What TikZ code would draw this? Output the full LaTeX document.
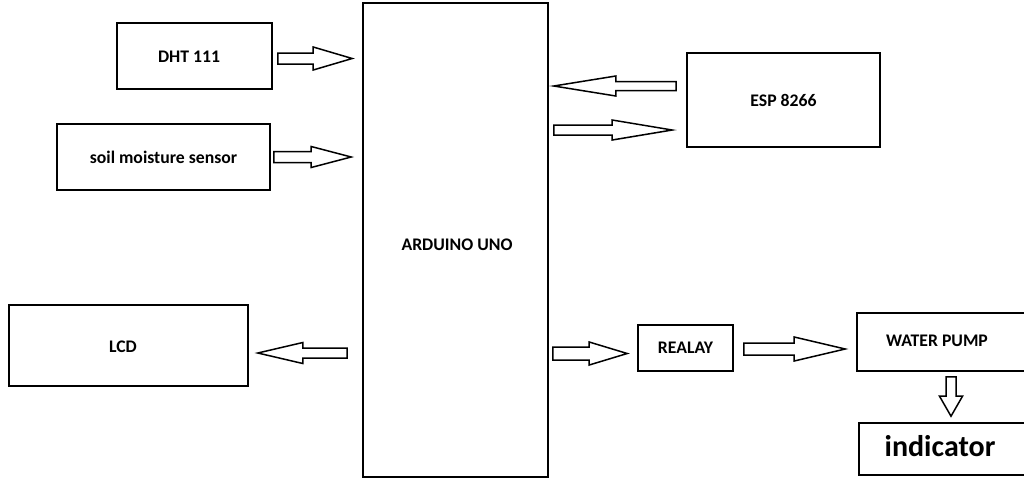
\documentclass[tikz,border=0pt]{standalone}
\usepackage{fontspec}
\setmainfont{Carlito}
\usetikzlibrary{calc}
\begin{document}
\begin{tikzpicture}[x=1pt,y=-1pt,
  box/.style 2 args={draw, line width=1.6pt, inner sep=0pt, minimum width=#1, minimum height=#2,
    font=\fontsize{17.7}{20}\selectfont\bfseries},
  lbl/.style={inner sep=0pt, font=\fontsize{17.7}{20}\selectfont\bfseries},
  biglbl/.style={inner sep=0pt, font=\fontsize{30}{34}\selectfont\bfseries},
  barrow/.style n args={3}{draw, line width=1.5pt, line join=miter, to path={
    ($(\tikztostart)!#1!90:(\tikztotarget)$) --
    ($(\tikztotarget)!#3!(\tikztostart)!#1!90:(\tikztotarget)$) --
    ($(\tikztotarget)!#3!(\tikztostart)!#2!90:(\tikztotarget)$) --
    (\tikztotarget) --
    ($(\tikztotarget)!#3!(\tikztostart)!#2!-90:(\tikztotarget)$) --
    ($(\tikztotarget)!#3!(\tikztostart)!#1!-90:(\tikztotarget)$) --
    ($(\tikztostart)!#1!-90:(\tikztotarget)$) -- cycle}}
]
\useasboundingbox (0,0) rectangle (1024,483);
\clip (0,0) rectangle (1024,483);

% boxes
\node[box={155pt}{66pt}] (dht) at (194.5,56) {};
\node[lbl] (dhtt) at (189,57) {DHT 111};
\node[box={213pt}{66pt}] (soil) at (163.5,157) {soil moisture sensor};
\node[box={239pt}{81pt}] (lcd) at (128.5,345.5) {};
\node[lbl] (lcdt) at (123,347) {LCD};
\node[box={185pt}{474pt}] (ard) at (455.5,240) {};
\node[lbl] (ardt) at (457,245) {ARDUINO UNO};
\node[box={193pt}{94pt}] (esp) at (783.5,100) {ESP 8266};
\node[box={95pt}{46pt}] (relay) at (685.5,348) {REALAY};
\node[box={173pt}{58pt}] (pump) at (943.5,342) {};
\node[lbl] (pumpt) at (937,341) {WATER PUMP};
\node[box={171pt}{52pt}] (ind) at (944.5,449) {};
\node[biglbl] (indt) at (940,446) {indicator};

% arrow end points
\coordinate (a1s) at ($(dht.east)+(5,2.5)$);
\coordinate (a1e) at ($(ard.west |- a1s)+(-10,0)$);
\coordinate (a2s) at ($(soil.east)+(3,0)$);
\coordinate (a2e) at ($(ard.west |- a2s)+(-11,0)$);
\coordinate (a3s) at ($(esp.west |- 0,86)+(-10,0)$);
\coordinate (a3e) at ($(ard.east |- a3s)+(5,0)$);
\coordinate (a4s) at ($(ard.east |- 0,130)+(5,0)$);
\coordinate (a4e) at ($(esp.west |- a4s)+(-14,0)$);
\coordinate (a5s) at ($(ard.west |- 0,353)+(-15,0)$);
\coordinate (a5e) at ($(lcd.east |- a5s)+(9,0)$);
\coordinate (a6s) at ($(ard.east |- 0,353.5)+(4,0)$);
\coordinate (a6e) at ($(relay.west |- a6s)+(-10,0)$);
\coordinate (a7s) at ($(relay.east |- 0,349)+(10,0)$);
\coordinate (a7e) at ($(pump.west |- a7s)+(-11,0)$);
\coordinate (a8s) at ($(pump.south -| 951,0)+(0,5)$);
\coordinate (a8e) at ($(ind.north -| a8s)+(0,-6)$);

% block arrows
\draw[barrow={5.5pt}{11.5pt}{39pt}] (a1s) to (a1e);
\draw[barrow={5.5pt}{10.5pt}{40pt}] (a2s) to (a2e);
\draw[barrow={4.5pt}{10pt}{62pt}] (a3s) to (a3e);
\draw[barrow={5pt}{10pt}{60pt}] (a4s) to (a4e);
\draw[barrow={5pt}{10.5pt}{45pt}] (a5s) to (a5e);
\draw[barrow={6.5pt}{11.5pt}{38pt}] (a6s) to (a6e);
\draw[barrow={6pt}{12pt}{51pt}] (a7s) to (a7e);
\draw[barrow={5pt}{11.5pt}{20pt}] (a8s) to (a8e);
\end{tikzpicture}
\end{document}
